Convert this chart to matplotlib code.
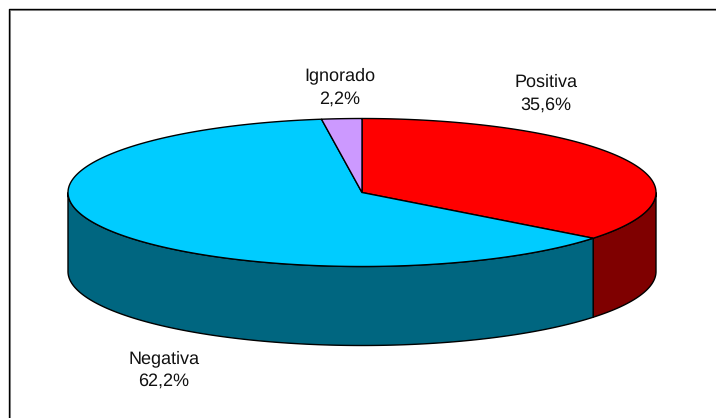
import numpy as np
import matplotlib
matplotlib.use("Agg")
import matplotlib.pyplot as plt

labels = ["Positiva", "Negativa", "Ignorado"]
shares = [35.6, 62.2, 2.2]
shown = ["35,6%", "62,2%", "2,2%"]
top_colors = ["#ff0000", "#00ccff", "#cc99ff"]
side_colors = ["#7f0000", "#006680", "#664c80"]
label_pos = [(546, 94), (164, 370), (340, 87.5)]

W, H = 716, 418
cx, cy = 362, 192.5
rx, ry = 294, 74
depth = 79

plt.rcParams["font.family"] = ["Liberation Sans"]
plt.rcParams["text.hinting"] = "no_hinting"
plt.rcParams["text.hinting_factor"] = 1


def rim(a, b):
    # angles run clockwise from 12 o'clock
    t = np.radians(np.linspace(a, b, 200))
    return cx + rx * np.sin(t), cy - ry * np.cos(t)


fig = plt.figure(figsize=(W / 100, H / 100), dpi=100)
ax = fig.add_axes([0, 0, 1, 1])
ax.set_xlim(0, W)
ax.set_ylim(H, 0)
ax.axis("off")

# outer frame, only the top and left edges show, with a thin grey shadow
ax.plot([9.5, 9.5, W], [H, 9.5, 9.5], color="#9a9a9a", lw=0.75, zorder=1)
ax.plot([8.5, 8.5, W], [H, 8.5, 8.5], color="#000000", lw=1.0, zorder=1)

start = 0
edges = []
for s in shares:
    edges.append((start, start + s * 3.6))
    start += s * 3.6

# side wall, only the front half of the rim (90 to 270 degrees)
for (a, b), c in zip(edges, side_colors):
    lo, hi = max(a, 90), min(b, 270)
    if lo >= hi:
        continue
    x, y = rim(lo, hi)
    ax.fill(np.r_[x, x[::-1]], np.r_[y, y[::-1] + depth], fc=c, ec="black", lw=1.0, zorder=2)

# top face
for (a, b), c in zip(edges, top_colors):
    x, y = rim(a, b)
    ax.fill(np.r_[cx, x], np.r_[cy, y], fc=c, ec="black", lw=1.0, zorder=3)

for name, val, (px, py) in zip(labels, shown, label_pos):
    ax.text(px, py, name + "\n" + val, ha="center", va="center", fontsize=12.9,
            color="#111111", linespacing=1.48, zorder=4)

fig.savefig("out.png", dpi=100)
